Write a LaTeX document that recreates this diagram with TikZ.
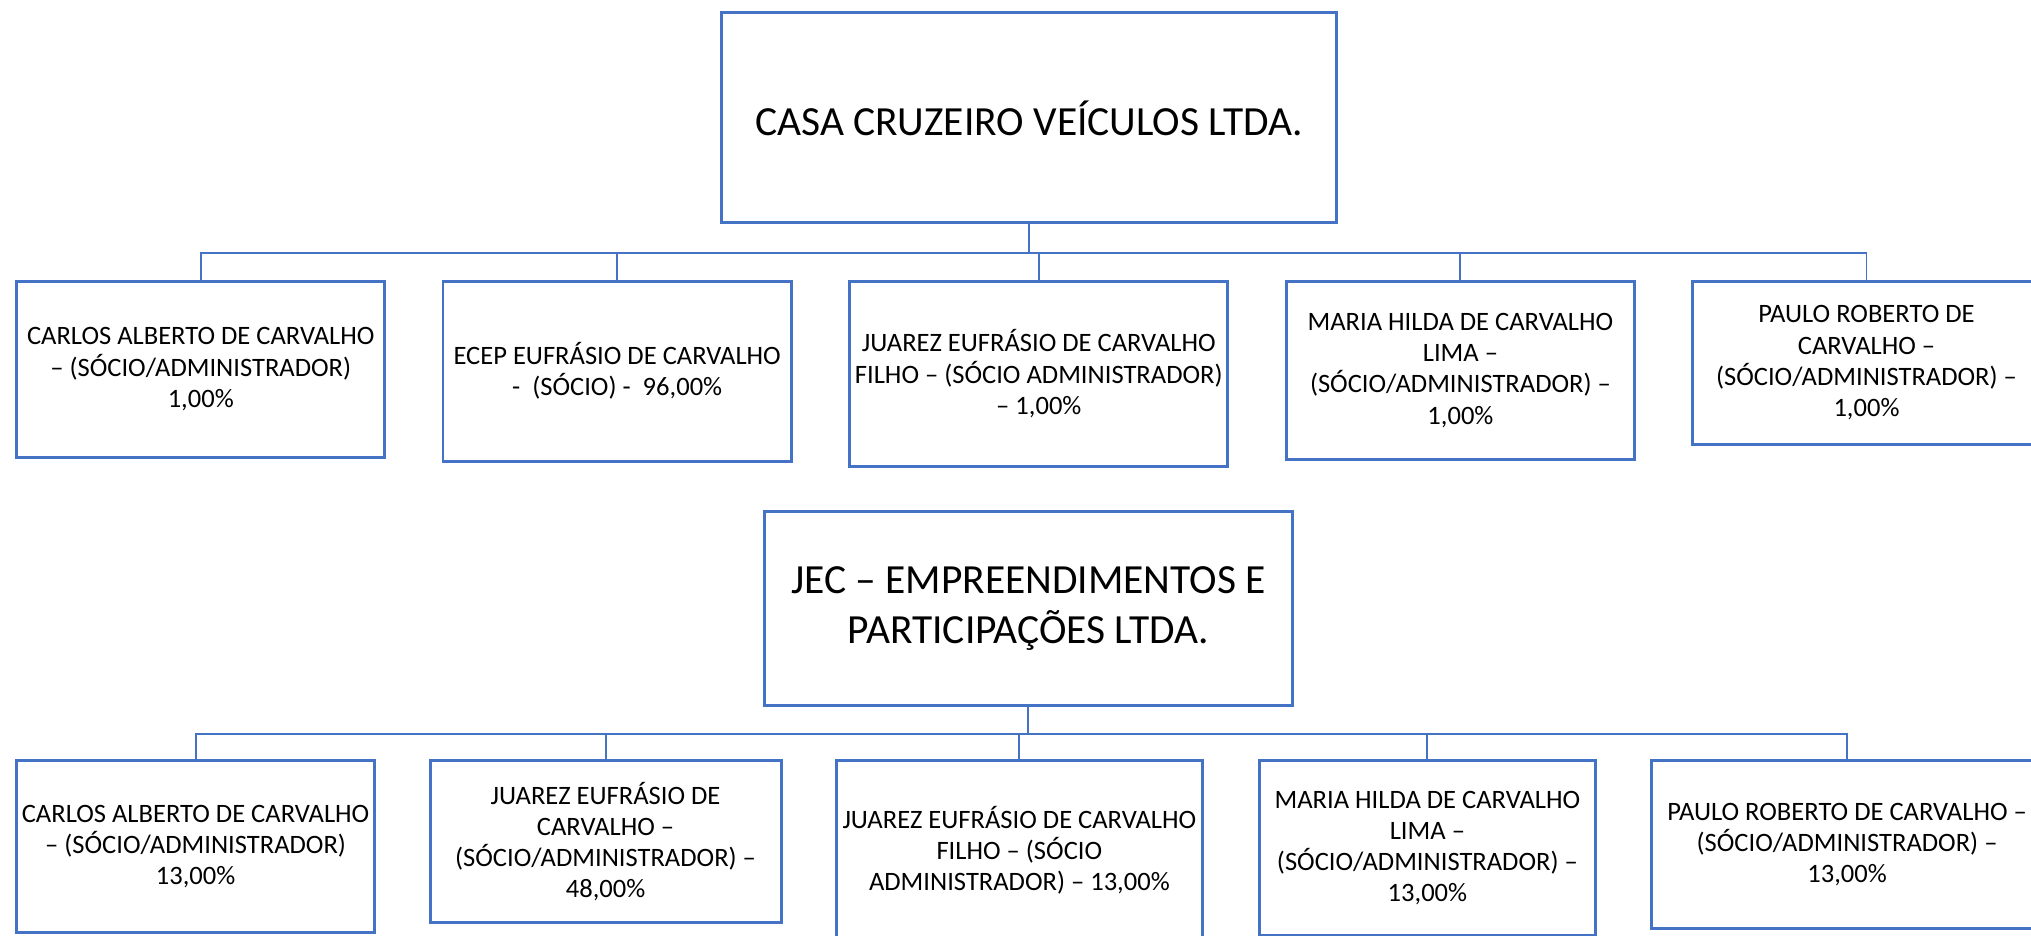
\documentclass[tikz,border=0pt]{standalone}
\usepackage{fontspec}
\setmainfont{Carlito}
\usepackage{tikz}
\usepackage{xcolor}
\definecolor{boxblue}{RGB}{68,114,196}

\begin{document}
\begin{tikzpicture}[x=1pt,y=-1pt]%
  \tikzstyle{boxn}=[rectangle,draw=boxblue,line width=2.3pt,inner sep=0,align=center,font=\fontsize{20.5}{24}\selectfont]
  \tikzstyle{boxt}=[boxn,font=\fontsize{32}{38.5}\selectfont]
  \tikzstyle{linen}=[draw=boxblue,line width=1.5pt]
  \useasboundingbox (0,0) rectangle (1568,722.6);
  \clip (0,0) rectangle (1568,722.6);
  % first company
  \node(casa)[boxt,minimum width=475,minimum height=162] at (794.5,91) {CASA CRUZEIRO VEÍCULOS LTDA.};
  \node(b1)[boxn,minimum width=284,minimum height=136] at (155,285)
    {CARLOS ALBERTO DE CARVALHO\\– (SÓCIO/ADMINISTRADOR)\\1,00\%};
  \node(b2)[boxn,minimum width=269,minimum height=139] at (476.5,286.5)
    {ECEP EUFRÁSIO DE CARVALHO\\- \ (SÓCIO) - \ 96,00\%};
  \node(b3)[boxn,minimum width=292,minimum height=143] at (802,288.5)
    {JUAREZ EUFRÁSIO DE CARVALHO\\FILHO – (SÓCIO ADMINISTRADOR)\\– 1,00\%};
  \node(b4)[boxn,minimum width=269,minimum height=138] at (1127.5,286)
    {MARIA HILDA DE CARVALHO\\LIMA –\\(SÓCIO/ADMINISTRADOR) –\\1,00\%};
  \node(b5)[boxn,minimum width=268,minimum height=126] at (1441,280)
    {PAULO ROBERTO DE\\CARVALHO –\\(SÓCIO/ADMINISTRADOR) –\\1,00\%};
  \coordinate(bus1) at (794.5,195);
  \draw[linen] (casa.south) -- (bus1);
  \foreach \n in {b1,b2,b3,b4,b5}
    \draw[linen] (\n.north) |- (bus1);
  % second company
  \node(jec)[boxt,minimum width=408,minimum height=150] at (794,470)
    {JEC – EMPREENDIMENTOS E\\PARTICIPAÇÕES LTDA.};
  \node(c1)[boxn,minimum width=276,minimum height=133] at (151,653.5)
    {CARLOS ALBERTO DE CARVALHO\\– (SÓCIO/ADMINISTRADOR)\\13,00\%};
  \node(c2)[boxn,minimum width=271,minimum height=125] at (467.5,649.5)
    {JUAREZ EUFRÁSIO DE\\CARVALHO –\\(SÓCIO/ADMINISTRADOR) –\\48,00\%};
  \node(c3)[boxn,minimum width=282,minimum height=139] at (787,656.5)
    {JUAREZ EUFRÁSIO DE CARVALHO\\FILHO – (SÓCIO\\ADMINISTRADOR) – 13,00\%};
  \node(c4)[boxn,minimum width=260,minimum height=135] at (1102,654.5)
    {MARIA HILDA DE CARVALHO\\LIMA –\\(SÓCIO/ADMINISTRADOR) –\\13,00\%};
  \node(c5)[boxn,minimum width=302,minimum height=130] at (1426,652)
    {PAULO ROBERTO DE CARVALHO –\\(SÓCIO/ADMINISTRADOR) –\\13,00\%};
  \coordinate(bus2) at (794,567);
  \draw[linen] (jec.south) -- (bus2);
  \foreach \n in {c1,c2,c3,c4,c5}
    \draw[linen] (\n.north) |- (bus2);
\end{tikzpicture}
\end{document}
